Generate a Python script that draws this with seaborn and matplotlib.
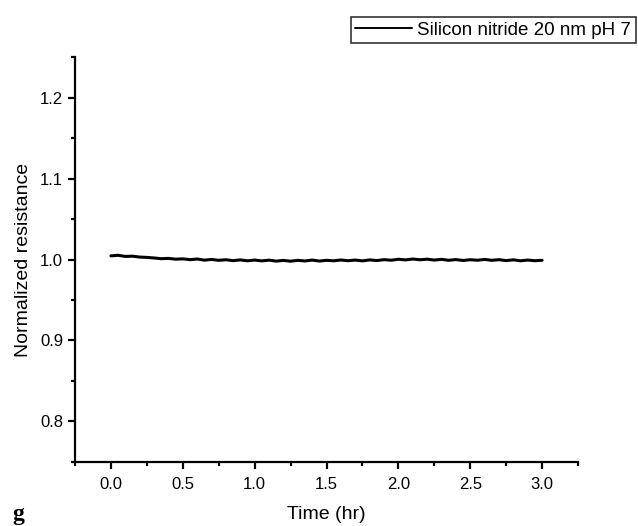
import matplotlib
matplotlib.use("Agg")
import matplotlib.pyplot as plt
from matplotlib.ticker import MultipleLocator
import pandas as pd
import seaborn as sns

# time in hours, every 0.05 hr
time_hr = [0.00, 0.05, 0.10, 0.15, 0.20, 0.25, 0.30, 0.35, 0.40, 0.45,
           0.50, 0.55, 0.60, 0.65, 0.70, 0.75, 0.80, 0.85, 0.90, 0.95,
           1.00, 1.05, 1.10, 1.15, 1.20, 1.25, 1.30, 1.35, 1.40, 1.45,
           1.50, 1.55, 1.60, 1.65, 1.70, 1.75, 1.80, 1.85, 1.90, 1.95,
           2.00, 2.05, 2.10, 2.15, 2.20, 2.25, 2.30, 2.35, 2.40, 2.45,
           2.50, 2.55, 2.60, 2.65, 2.70, 2.75, 2.80, 2.85, 2.90, 2.95,
           3.00]
resistance = [1.0045, 1.0052, 1.0038, 1.0041, 1.0030, 1.0026, 1.0019, 1.0010, 1.0014, 1.0004,
              1.0008, 0.9998, 1.0006, 0.9992, 1.0001, 0.9990, 0.9997, 0.9986, 0.9995, 0.9984,
              0.9993, 0.9983, 0.9992, 0.9980, 0.9989, 0.9979, 0.9990, 0.9982, 0.9993, 0.9981,
              0.9990, 0.9984, 0.9994, 0.9985, 0.9993, 0.9983, 0.9995, 0.9987, 0.9998, 0.9991,
              1.0003, 0.9995, 1.0006, 0.9997, 1.0004, 0.9993, 1.0002, 0.9990, 0.9999, 0.9988,
              0.9997, 0.9991, 1.0001, 0.9990, 0.9998, 0.9986, 0.9996, 0.9984, 0.9993, 0.9985,
              0.9990]
series_label = "Silicon nitride 20 nm pH 7"

df = pd.DataFrame({"time": time_hr, "res": resistance})

sns.set_style("ticks", {"axes.edgecolor": "black", "text.color": "black",
                        "axes.labelcolor": "black", "xtick.color": "black",
                        "ytick.color": "black"})
plt.rcParams["font.family"] = ["Liberation Sans", "DejaVu Sans"]

fig = plt.figure(figsize=(6.38, 5.26), dpi=100)
ax = fig.add_axes([0.1176, 0.1217, 0.7884, 0.7699])

sns.lineplot(data=df, x="time", y="res", ax=ax, color="black", linewidth=2.2,
             label=series_label)

ax.set_xlim(-0.25, 3.25)
ax.set_ylim(0.75, 1.25)
ax.xaxis.set_major_locator(MultipleLocator(0.5))
ax.xaxis.set_minor_locator(MultipleLocator(0.25))
ax.yaxis.set_major_locator(MultipleLocator(0.1))
ax.yaxis.set_minor_locator(MultipleLocator(0.05))
ax.xaxis.set_major_formatter(plt.FormatStrFormatter("%.1f"))
ax.yaxis.set_major_formatter(plt.FormatStrFormatter("%.1f"))

sns.despine(ax=ax)
for s in ["left", "bottom"]:
    ax.spines[s].set_linewidth(1.6)
    ax.spines[s].set_color("black")
ax.tick_params(which="major", direction="out", length=5, width=1.6, labelsize=12,
               colors="black")
ax.tick_params(axis="x", which="major", pad=5.5)
ax.tick_params(axis="y", which="major", pad=3.5)
ax.tick_params(which="minor", direction="out", length=3, width=1.6, colors="black")

ax.set_xlabel("Time (hr)", fontsize=14, labelpad=10.5, color="black")
ax.set_ylabel("Normalized resistance", fontsize=14, labelpad=6, color="black")

leg = ax.legend(loc="upper right", bbox_to_anchor=(1.115, 1.099), frameon=True,
                fancybox=False, fontsize=13.5, handlelength=3.0, handletextpad=0.3,
                borderpad=0.25, borderaxespad=0)
leg.get_frame().set_edgecolor("black")
leg.get_frame().set_linewidth(1.2)
leg.get_lines()[0].set_linewidth(1.4)
for t in leg.get_texts():
    t.set_color("black")

fig.text(0.02, 0.012, "g", fontsize=17, fontweight="bold", color="black",
         family=["Liberation Serif", "DejaVu Serif"])

fig.savefig("out.png", dpi=100)
